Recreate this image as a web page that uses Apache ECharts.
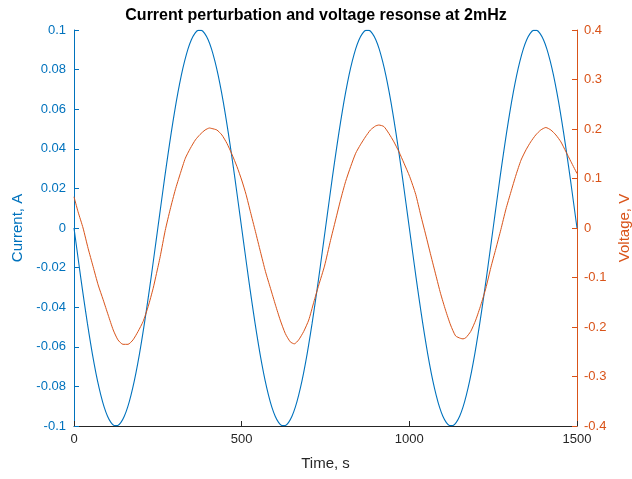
<!DOCTYPE html>
<html>
<head>
<meta charset="utf-8">
<script src="https://cdn.jsdelivr.net/npm/echarts@6/dist/echarts.min.js"></script>
<style>
  html, body { margin: 0; padding: 0; background: #fff; }
  #chart { width: 632px; height: 479px; }
</style>
</head>
<body>
<div id="chart"></div>
<script>
// Current perturbation, sampled every 10 s from 0 to 1500 s (A)
const currentStep = 10;
const currentValues = [
  0, -0.0125, -0.0249, -0.0368, -0.0482, -0.0588, -0.0685, -0.0771, -0.0844, -0.0905, -0.0951, -0.0982, -0.0998,
  -0.0998, -0.0982, -0.0951, -0.0905, -0.0844, -0.0771, -0.0685, -0.0588, -0.0482, -0.0368, -0.0249, -0.0125,
  0, 0.0125, 0.0249, 0.0368, 0.0482, 0.0588, 0.0685, 0.0771, 0.0844, 0.0905, 0.0951, 0.0982, 0.0998,
  0.0998, 0.0982, 0.0951, 0.0905, 0.0844, 0.0771, 0.0685, 0.0588, 0.0482, 0.0368, 0.0249, 0.0125,
  0, -0.0125, -0.0249, -0.0368, -0.0482, -0.0588, -0.0685, -0.0771, -0.0844, -0.0905, -0.0951, -0.0982, -0.0998,
  -0.0998, -0.0982, -0.0951, -0.0905, -0.0844, -0.0771, -0.0685, -0.0588, -0.0482, -0.0368, -0.0249, -0.0125,
  0, 0.0125, 0.0249, 0.0368, 0.0482, 0.0588, 0.0685, 0.0771, 0.0844, 0.0905, 0.0951, 0.0982, 0.0998,
  0.0998, 0.0982, 0.0951, 0.0905, 0.0844, 0.0771, 0.0685, 0.0588, 0.0482, 0.0368, 0.0249, 0.0125,
  0, -0.0125, -0.0249, -0.0368, -0.0482, -0.0588, -0.0685, -0.0771, -0.0844, -0.0905, -0.0951, -0.0982, -0.0998,
  -0.0998, -0.0982, -0.0951, -0.0905, -0.0844, -0.0771, -0.0685, -0.0588, -0.0482, -0.0368, -0.0249, -0.0125,
  0, 0.0125, 0.0249, 0.0368, 0.0482, 0.0588, 0.0685, 0.0771, 0.0844, 0.0905, 0.0951, 0.0982, 0.0998,
  0.0998, 0.0982, 0.0951, 0.0905, 0.0844, 0.0771, 0.0685, 0.0588, 0.0482, 0.0368, 0.0249, 0.0125,
  0
];

// Voltage response: sample times (s) and values (V)
const voltageTimes = [
  0, 12, 27, 42, 57, 72, 87, 102, 117, 131, 146, 161, 176, 191, 206, 221, 236, 246, 257, 272,
  287, 302, 317, 332, 347, 362, 376, 391, 404, 411, 426, 441, 456, 471, 486, 500, 513, 526, 541, 556,
  571, 586, 601, 615, 630, 645, 657, 670, 685, 700, 715, 730, 747, 765, 780, 795, 810, 825, 840, 854,
  869, 884, 899, 909, 924, 939, 954, 969, 984, 1001, 1019, 1034, 1049, 1064, 1079, 1093, 1108, 1123, 1138, 1153,
  1160, 1168, 1183, 1198, 1213, 1228, 1243, 1258, 1273, 1288, 1303, 1318, 1333, 1348, 1362, 1377, 1392, 1407, 1422, 1437,
  1452, 1467, 1482, 1500
];
const voltageValues = [
  0.063, 0.033, 0.000, -0.041, -0.078, -0.115, -0.145, -0.176, -0.206, -0.226, -0.235, -0.235, -0.226, -0.209, -0.189, -0.159, -0.122, -0.092, -0.058, -0.005,
  0.038, 0.077, 0.110, 0.141, 0.161, 0.178, 0.189, 0.198, 0.202, 0.201, 0.198, 0.188, 0.171, 0.149, 0.124, 0.097, 0.068, 0.033, -0.007, -0.048,
  -0.088, -0.122, -0.156, -0.186, -0.213, -0.230, -0.234, -0.226, -0.209, -0.186, -0.150, -0.115, -0.077, -0.025, 0.016, 0.057, 0.094, 0.124, 0.151, 0.168,
  0.184, 0.198, 0.206, 0.208, 0.205, 0.191, 0.174, 0.154, 0.131, 0.104, 0.068, 0.026, -0.014, -0.055, -0.095, -0.132, -0.166, -0.196, -0.218, -0.223,
  -0.224, -0.222, -0.209, -0.186, -0.156, -0.122, -0.080, -0.042, -0.003, 0.038, 0.073, 0.107, 0.137, 0.158, 0.174, 0.188, 0.198, 0.203, 0.198, 0.188,
  0.174, 0.154, 0.134, 0.110
];

// Axis ranges and tick spacing
const timeRange = [0, 1500, 500];
const currentRange = [-0.1, 0.1, 0.02];
const voltageRange = [-0.4, 0.4, 0.1];

const BLUE = '#0072BD';
const ORANGE = '#D95319';
const DARK = '#262626';
const FONT = '"Liberation Sans", Arial, Helvetica, sans-serif';

const currentData = currentValues.map((v, i) => [i * currentStep, v]);
const voltageData = voltageTimes.map((t, i) => [t, voltageValues[i]]);

const trim = (digits) => (v) => String(+v.toFixed(digits));

const chart = echarts.init(document.getElementById('chart'), null, { renderer: 'canvas' });
chart.setOption({
  backgroundColor: '#fff',
  animation: false,
  title: {
    text: 'Current perturbation and voltage resonse at 2mHz',
    left: 'center',
    top: 3,
    textStyle: { fontFamily: FONT, fontSize: 16, fontWeight: 'bold', color: '#000' }
  },
  grid: { left: 74, right: 55, top: 30, bottom: 53, containLabel: false, outerBoundsMode: 'none' },
  xAxis: {
    type: 'value',
    min: timeRange[0], max: timeRange[1], interval: timeRange[2],
    name: 'Time, s',
    nameLocation: 'middle',
    nameGap: 30,
    nameTextStyle: { fontFamily: FONT, fontSize: 15, color: DARK },
    axisLine: { show: true, onZero: false, lineStyle: { color: DARK, width: 1 } },
    axisTick: { show: true, inside: true, length: 5, lineStyle: { color: DARK } },
    axisLabel: { fontFamily: FONT, fontSize: 13, color: DARK, margin: 7, formatter: trim(0) },
    splitLine: { show: false }
  },
  yAxis: [
    {
      type: 'value',
      position: 'left',
      min: currentRange[0], max: currentRange[1], interval: currentRange[2],
      name: 'Current, A',
      nameLocation: 'middle',
      nameGap: 49,
      nameRotate: 90,
      nameTextStyle: { fontFamily: FONT, fontSize: 15, color: BLUE },
      axisLine: { show: true, onZero: false, lineStyle: { color: BLUE, width: 1 } },
      axisTick: { show: true, inside: true, length: 5, lineStyle: { color: BLUE } },
      axisLabel: { fontFamily: FONT, fontSize: 13, color: BLUE, margin: 8, formatter: trim(2) },
      splitLine: { show: false }
    },
    {
      type: 'value',
      position: 'right',
      min: voltageRange[0], max: voltageRange[1], interval: voltageRange[2],
      name: 'Voltage, V',
      nameLocation: 'middle',
      nameGap: 37,
      nameRotate: 90,
      nameTextStyle: { fontFamily: FONT, fontSize: 15, color: ORANGE },
      axisLine: { show: true, onZero: false, lineStyle: { color: ORANGE, width: 1 } },
      axisTick: { show: true, inside: true, length: 5, lineStyle: { color: ORANGE } },
      axisLabel: { fontFamily: FONT, fontSize: 13, color: ORANGE, margin: 7, formatter: trim(1) },
      splitLine: { show: false }
    }
  ],
  series: [
    {
      name: 'Current',
      type: 'line',
      yAxisIndex: 0,
      data: currentData,
      showSymbol: false,
      smooth: 0.3,
      lineStyle: { color: BLUE, width: 1.1 },
      itemStyle: { color: BLUE }
    },
    {
      name: 'Voltage',
      type: 'line',
      yAxisIndex: 1,
      data: voltageData,
      showSymbol: false,
      smooth: 0.2,
      lineStyle: { color: ORANGE, width: 1 },
      itemStyle: { color: ORANGE }
    }
  ]
});
</script>
</body>
</html>
